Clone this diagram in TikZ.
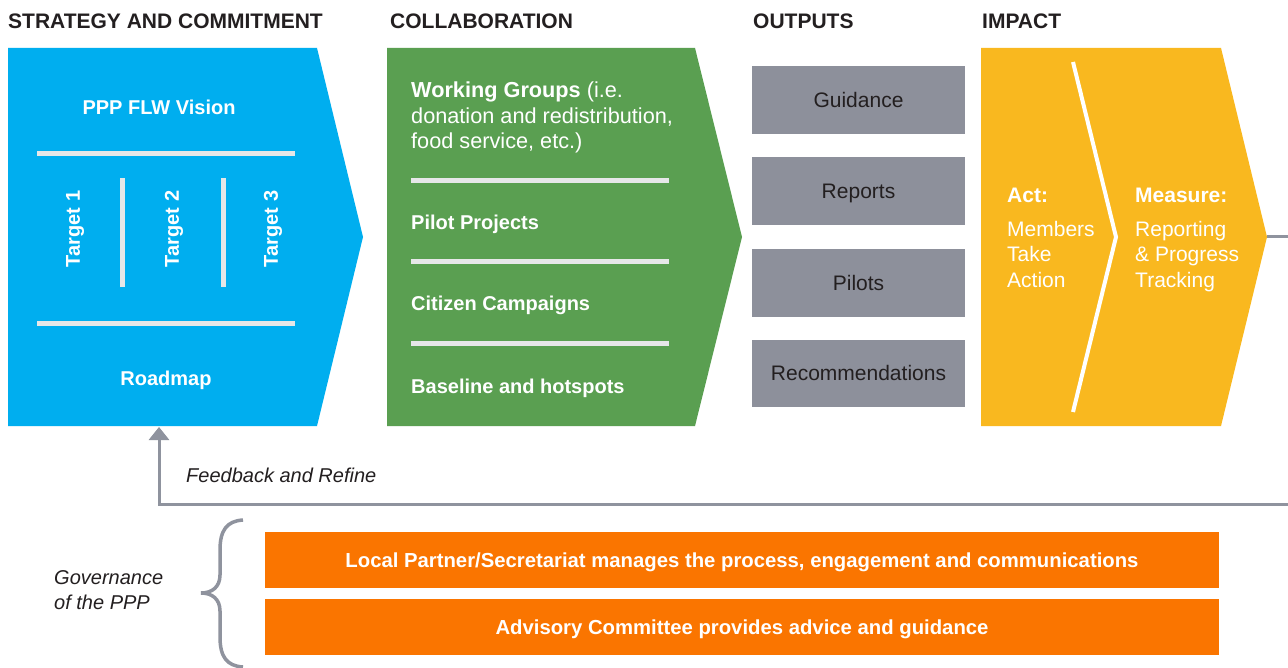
\documentclass[tikz,border=0pt]{standalone}
\usepackage{fontspec}
\setmainfont{Liberation Sans}
\usetikzlibrary{arrows.meta}
\definecolor{cblue}{HTML}{00AEEF}
\definecolor{cgreen}{HTML}{5A9F51}
\definecolor{cgray}{HTML}{8D909B}
\definecolor{cyellow}{HTML}{F9B81F}
\definecolor{corange}{HTML}{FA7500}
\definecolor{csep}{HTML}{E6E7E8}
\definecolor{cline}{HTML}{8F939E}
\definecolor{ctext}{HTML}{231F20}
\begin{document}
\begin{tikzpicture}[x=1pt,y=-1pt,
 header/.style={anchor=base west, font=\fontsize{21}{25}\selectfont\bfseries, text=ctext, inner sep=0},
 wlabel/.style={text=white, font=\fontsize{20}{25.5}\selectfont\bfseries, inner sep=0},
 wtext/.style={text=white, font=\fontsize{21}{25.5}\selectfont, inner sep=0, align=left, anchor=north west},
 outbox/.style={fill=cgray, minimum width=213pt, minimum height=68pt, inner sep=0, text=ctext,
   font=\fontsize{21}{25}\selectfont, text height=15pt, text depth=0pt},
 sepline/.style={draw=csep, line width=5pt},
 govbar/.style={fill=corange, minimum width=954pt, minimum height=56pt, inner sep=0, text=white,
   font=\fontsize{20.3}{24}\selectfont\bfseries, text height=14.5pt, text depth=0pt},
 grayline/.style={draw=cline, line width=3pt},
 note/.style={text=ctext, font=\fontsize{20}{25}\selectfont\itshape, inner sep=0, align=left}]

\useasboundingbox (0,0) rectangle (1288,668);
\clip (0,0) rectangle (1288,668);
\fill[white] (0,0) rectangle (1288,668);

% headers
\node[header] (h1) at (8,29) {STRATEGY AND COMMITMENT};
\node[header] (h2) at (390,29) {COLLABORATION};
\node[header] (h3) at (753,29) {OUTPUTS};
\node[header] (h4) at (982,29) {IMPACT};

% strategy chevron
\fill[cblue] (8,48) -- (317,48) -- (363,237) -- (317,426) -- (8,426) -- cycle;
\draw[sepline] (37,154) -- (295,154);
\draw[sepline] (37,324) -- (295,324);
\draw[sepline] (122,178) -- (122,287);
\draw[sepline] (223,178) -- (223,287);
\node[wlabel, anchor=base] (vision) at (159,115) {PPP FLW Vision};
\node[wlabel, anchor=base] (roadmap) at (166,385) {Roadmap};
\node[wlabel, rotate=90] (t1) at (75,229) {Target 1};
\node[wlabel, rotate=90] (t2) at (174,229) {Target 2};
\node[wlabel, rotate=90] (t3) at (273,229) {Target 3};
\coordinate (bluebot) at (159,427);

% collaboration chevron
\fill[cgreen] (387,48) -- (695,48) -- (742,237) -- (695,426) -- (387,426) -- cycle;
\draw[sepline] (411,181) -- (669,181);
\draw[sepline] (411,262) -- (669,262);
\draw[sepline] (411,344) -- (669,344);
\node[wtext, font=\fontsize{21.7}{25.5}\selectfont] (wg) at (411,82) {\textbf{Working Groups} (i.e.\\donation and redistribution,\\food service, etc.)};
\node[wlabel, anchor=base west] (pilot) at (411,230) {Pilot Projects};
\node[wlabel, anchor=base west] (citizen) at (411,311) {Citizen Campaigns};
\node[wlabel, anchor=base west] (baseline) at (411,393) {Baseline and hotspots};

% outputs
\node[outbox] (guid) at (858.5,100) {Guidance};
\node[outbox] (rep) at (858.5,191) {Reports};
\node[outbox] (pil) at (858.5,283) {Pilots};
\node[outbox, minimum height=67pt] (rec) at (858.5,373.5) {Recommendations};

% impact chevron
\fill[cyellow] (981,48) -- (1221,48) -- (1267,237) -- (1221,426) -- (981,426) -- cycle;
\draw[white, line width=4pt] (1073,62) -- (1116,237) -- (1073,412);
\node[wtext] (act) at (1007,187.5) {\textbf{Act:}\\[8.5pt]Members\\Take\\Action};
\node[wtext] (meas) at (1135,187.5) {\textbf{Measure:}\\[8.5pt]Reporting\\\& Progress\\Tracking};
\coordinate (ytip) at (1267,237);
\coordinate (c1) at (1300,237);
\coordinate (c2) at (1300,504);
\coordinate (c3) at (159,504);

% feedback loop
\draw[grayline, -{Triangle[width=20pt,length=13pt]}] (ytip) -- (c1) -- (c2) -- (c3) -- (bluebot);
\node[note, anchor=base west] (fb) at (186,482) {Feedback and Refine};

% governance
\node[govbar] (gov1) at (742,560) {Local Partner/Secretariat manages the process, engagement and communications};
\node[govbar] (gov2) at (742,627) {Advisory Committee provides advice and guidance};
\coordinate (bt) at (243,520);
\coordinate (bm) at (201,593);
\coordinate (bb) at (243,667);
\draw[cline, line width=3.5pt] (bt) .. controls (227,521) and (220,530) .. (220,550) -- (220,575)
   .. controls (220,587) and (212,593) .. (bm)
   .. controls (212,593) and (220,599) .. (220,611) -- (220,637)
   .. controls (220,657) and (227,666) .. (bb);
\node[note, anchor=north west] (govtxt) at (54,570) {Governance\\of the PPP};
\end{tikzpicture}
\end{document}
